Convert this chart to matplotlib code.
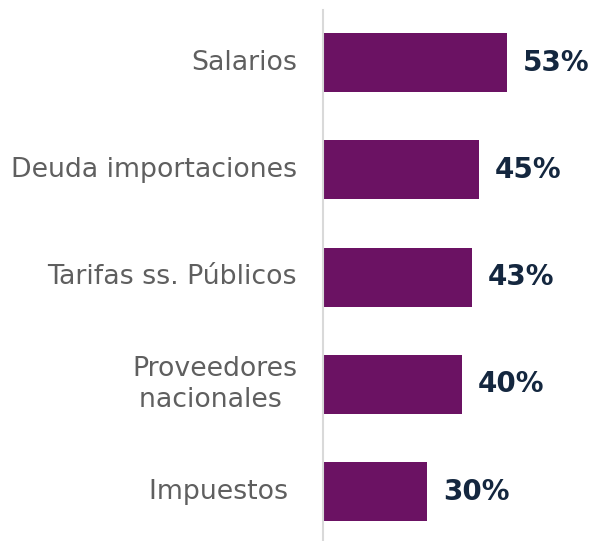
import matplotlib
matplotlib.use("Agg")
from matplotlib import pyplot as plt

categories = ["Salarios", "Deuda importaciones", "Tarifas ss. Públicos",
              "Proveedores\nnacionales ", "Impuestos "]
values = [53, 45, 43, 40, 30]
value_labels = ["53%", "45%", "43%", "40%", "30%"]

bar_color = "#6b1263"
label_color = "#5f5f5f"
value_color = "#14273f"

fig = plt.figure(figsize=(5.91, 5.41), dpi=100)
ax = fig.add_axes([323 / 591, 0, 268 / 591, 531 / 541])

ypos = list(range(len(categories)))
ax.barh(ypos, values, height=0.55, color=bar_color)
ax.set_xlim(0, 77.2)
ax.set_ylim(4.46, -0.49)

for y, v, lab in zip(ypos, values, value_labels):
    ax.text(v + 4.6, y, lab, va="center", ha="left", fontsize=20,
            fontweight="bold", color=value_color)

for y, cat in zip(ypos, categories):
    ax.text(-7.5, y, cat, va="center", ha="right", multialignment="center",
            fontsize=19.3, color=label_color, linespacing=1.25)

for side in ["top", "right", "bottom"]:
    ax.spines[side].set_visible(False)
ax.spines["left"].set_color("#d9d9d9")
ax.spines["left"].set_linewidth(1.5)
ax.set_xticks([])
ax.set_yticks([])

plt.savefig("out.png", dpi=100)
